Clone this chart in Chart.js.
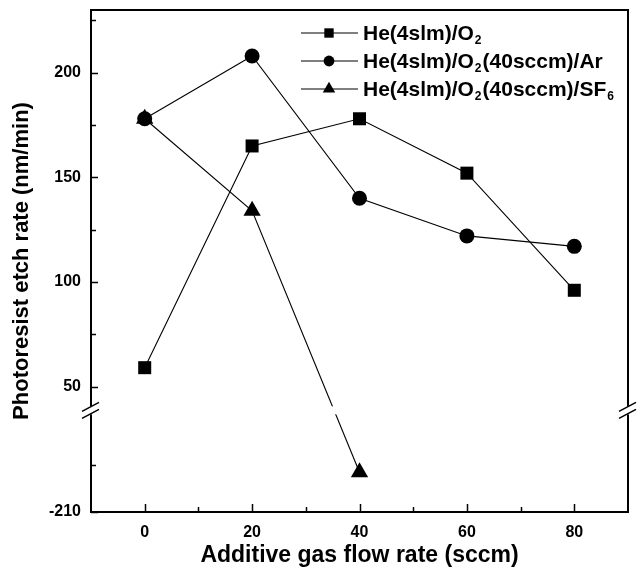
<!DOCTYPE html>
<html>
<head>
<meta charset="utf-8">
<script src="https://cdn.jsdelivr.net/npm/chart.js@4/dist/chart.umd.min.js"></script>
<style>
html, body { margin: 0; padding: 0; background: #fff; }
#wrap { width: 638px; height: 575px; }
</style>
</head>
<body>
<div id="wrap"><canvas id="etchChart"></canvas></div>
<script>
// values (nm/min)
const flowRates = [0, 20, 40, 60, 80];
const seriesNames = ['He(4slm)/O_2', 'He(4slm)/O_2(40sccm)/Ar', 'He(4slm)/O_2(40sccm)/SF_6'];
const heO2 = [59, 165, 178, 152, 96];
const heO2Ar = [178, 208, 140, 122, 117];
const heO2SF6 = [178, 134, -191];
const xMajorTicks = [0, 20, 40, 60, 80];
const xMinorTicks = [10, 30, 50, 70];
const yMajorTicks = [-210, 50, 100, 150, 200];
const yMinorTicks = [-187.5, 75, 125, 175, 225];

// broken y axis: values below zero are shifted up by lowerShift
const lowerShift = 200;
const breakAt = 38.6;
const toAxis = v => (v < 0 ? v + lowerShift : v);

const FONT = "'Liberation Sans', Arial, sans-serif";

const points = (vals) => vals.map((v, i) => ({x: flowRates[i], y: toAxis(v)}));

const data = {
    datasets: [
        {
            label: seriesNames[0],
            data: points(heO2),
            pointStyle: 'rect',
            pointRadius: 9.2
        },
        {
            label: seriesNames[1],
            data: points(heO2Ar),
            pointStyle: 'circle',
            pointRadius: 7.5
        },
        {
            label: seriesNames[2],
            data: points(heO2SF6),
            pointStyle: 'triangle',
            pointRadius: 10
        }
    ].map(ds => Object.assign(ds, {
        borderColor: '#000',
        backgroundColor: '#000',
        borderWidth: 1.1,
        pointBackgroundColor: '#000',
        pointBorderColor: '#000',
        pointBorderWidth: 0,
        pointHoverRadius: ds.pointRadius,
        tension: 0
    }))
};

const drawRich = (ctx, text, x, y) => {
    text.split(/(_\d)/).forEach(part => {
        if (!part) return;
        if (part[0] === '_') {
            ctx.font = `bold 12px ${FONT}`;
            ctx.fillText(part[1], x + 1, y + 7);
            x += ctx.measureText(part[1]).width + 2;
        } else {
            ctx.font = `bold 21px ${FONT}`;
            ctx.fillText(part, x, y);
            x += ctx.measureText(part).width;
        }
    });
};

const frame = {
    id: 'frame_ticks_break',
    afterDatasetsDraw: (chart) => {
        const {ctx, chartArea: a} = chart;
        const yb = chart.scales.y.getPixelForValue(breakAt);
        // gap in lines crossing the break
        ctx.save();
        ctx.fillStyle = '#fff';
        ctx.fillRect(a.left + 2, yb - 4, a.right - a.left - 4, 8);
        ctx.restore();
    },
    afterDraw: (chart) => {
        const {ctx, chartArea: a} = chart;
        const xs = chart.scales.x, ys = chart.scales.y;
        ctx.save();
        ctx.strokeStyle = '#000';
        ctx.lineWidth = 2;
        ctx.strokeRect(a.left, a.top, a.right - a.left, a.bottom - a.top);
        // inward ticks
        ctx.lineWidth = 1.5;
        ctx.beginPath();
        xs.ticks.forEach(t => {
            const px = Math.round(xs.getPixelForValue(t.value)) + 0.5;
            const len = t.major ? 8 : 5;
            ctx.moveTo(px, a.bottom);
            ctx.lineTo(px, a.bottom - len);
        });
        ys.ticks.forEach(t => {
            const py = Math.round(ys.getPixelForValue(t.value)) + 0.5;
            const len = t.major ? 7 : 5;
            ctx.moveTo(a.left, py);
            ctx.lineTo(a.left + len, py);
        });
        ctx.stroke();
        // axis break marks
        const yb = ys.getPixelForValue(breakAt);
        [a.left, a.right].forEach(x0 => {
            ctx.fillStyle = '#fff';
            ctx.fillRect(x0 - 2, yb - 4, 4, 8);
            ctx.lineWidth = 1.5;
            ctx.beginPath();
            ctx.moveTo(x0 - 9, yb + 1);
            ctx.lineTo(x0 + 8, yb - 8);
            ctx.moveTo(x0 - 9, yb + 8);
            ctx.lineTo(x0 + 8, yb - 1);
            ctx.stroke();
        });
        // legend inside the plot
        ctx.textBaseline = 'middle';
        ctx.textAlign = 'left';
        chart.data.datasets.forEach((ds, i) => {
            const y = 33 + i * 28;
            ctx.strokeStyle = '#000';
            ctx.lineWidth = 1.1;
            ctx.beginPath();
            ctx.moveTo(301, y);
            ctx.lineTo(358, y);
            ctx.stroke();
            ctx.fillStyle = '#000';
            Chart.helpers.drawPoint(ctx, {
                pointStyle: ds.pointStyle,
                radius: ds.pointRadius * 0.72,
                rotation: 0,
                borderWidth: 0
            }, 329, y);
            ctx.fillStyle = '#000';
            drawRich(ctx, ds.label, 363, y + 1);
        });
        ctx.restore();
    }
};

const config = {
    type: 'line',
    data: data,
    options: {
        responsive: true,
        maintainAspectRatio: false,
        animation: false,
        layout: { padding: { top: 9, right: 6, left: 0, bottom: 0 } },
        plugins: {
            legend: { display: false },
            tooltip: { enabled: false }
        },
        scales: {
            x: {
                type: 'linear',
                min: -10,
                max: 90,
                afterBuildTicks: (scale) => {
                    scale.ticks = xMajorTicks.map(v => ({value: v, major: true}))
                        .concat(xMinorTicks.map(v => ({value: v, major: false})))
                        .sort((p, q) => p.value - q.value);
                },
                afterFit: (scale) => {
                    scale.height = 63;
                    scale.paddingLeft = 0;
                    scale.paddingRight = 0;
                },
                grid: { display: false, drawTicks: false },
                border: { display: false },
                ticks: {
                    autoSkip: false,
                    maxRotation: 0,
                    padding: 11,
                    color: '#000',
                    font: { family: FONT, size: 16, weight: 'bold' },
                    callback: (v) => (xMajorTicks.includes(v) ? String(v) : '')
                },
                title: {
                    display: true,
                    text: 'Additive gas flow rate (sccm)',
                    color: '#000',
                    font: { family: FONT, size: 23, weight: 'bold' },
                    padding: { top: 0, bottom: 6 }
                }
            },
            y: {
                type: 'linear',
                min: -10,
                max: 230,
                afterBuildTicks: (scale) => {
                    scale.ticks = yMajorTicks.map(v => ({value: toAxis(v), major: true}))
                        .concat(yMinorTicks.map(v => ({value: toAxis(v), major: false})))
                        .sort((p, q) => p.value - q.value);
                },
                afterFit: (scale) => {
                    scale.width = 91;
                    scale.paddingTop = 0;
                    scale.paddingBottom = 0;
                },
                grid: { display: false, drawTicks: false },
                border: { display: false },
                ticks: {
                    autoSkip: false,
                    padding: 10,
                    color: '#000',
                    font: { family: FONT, size: 16, weight: 'bold' },
                    callback: (v) => {
                        const m = yMajorTicks.find(t => toAxis(t) === v);
                        return m === undefined ? '' : String(m);
                    }
                },
                title: {
                    display: true,
                    text: 'Photoresist etch rate (nm/min)',
                    color: '#000',
                    font: { family: FONT, size: 22, weight: 'bold' },
                    padding: { top: 9, bottom: 0 }
                }
            }
        }
    },
    plugins: [frame]
};

const etchChart = new Chart(document.getElementById('etchChart'), config);
</script>
</body>
</html>
